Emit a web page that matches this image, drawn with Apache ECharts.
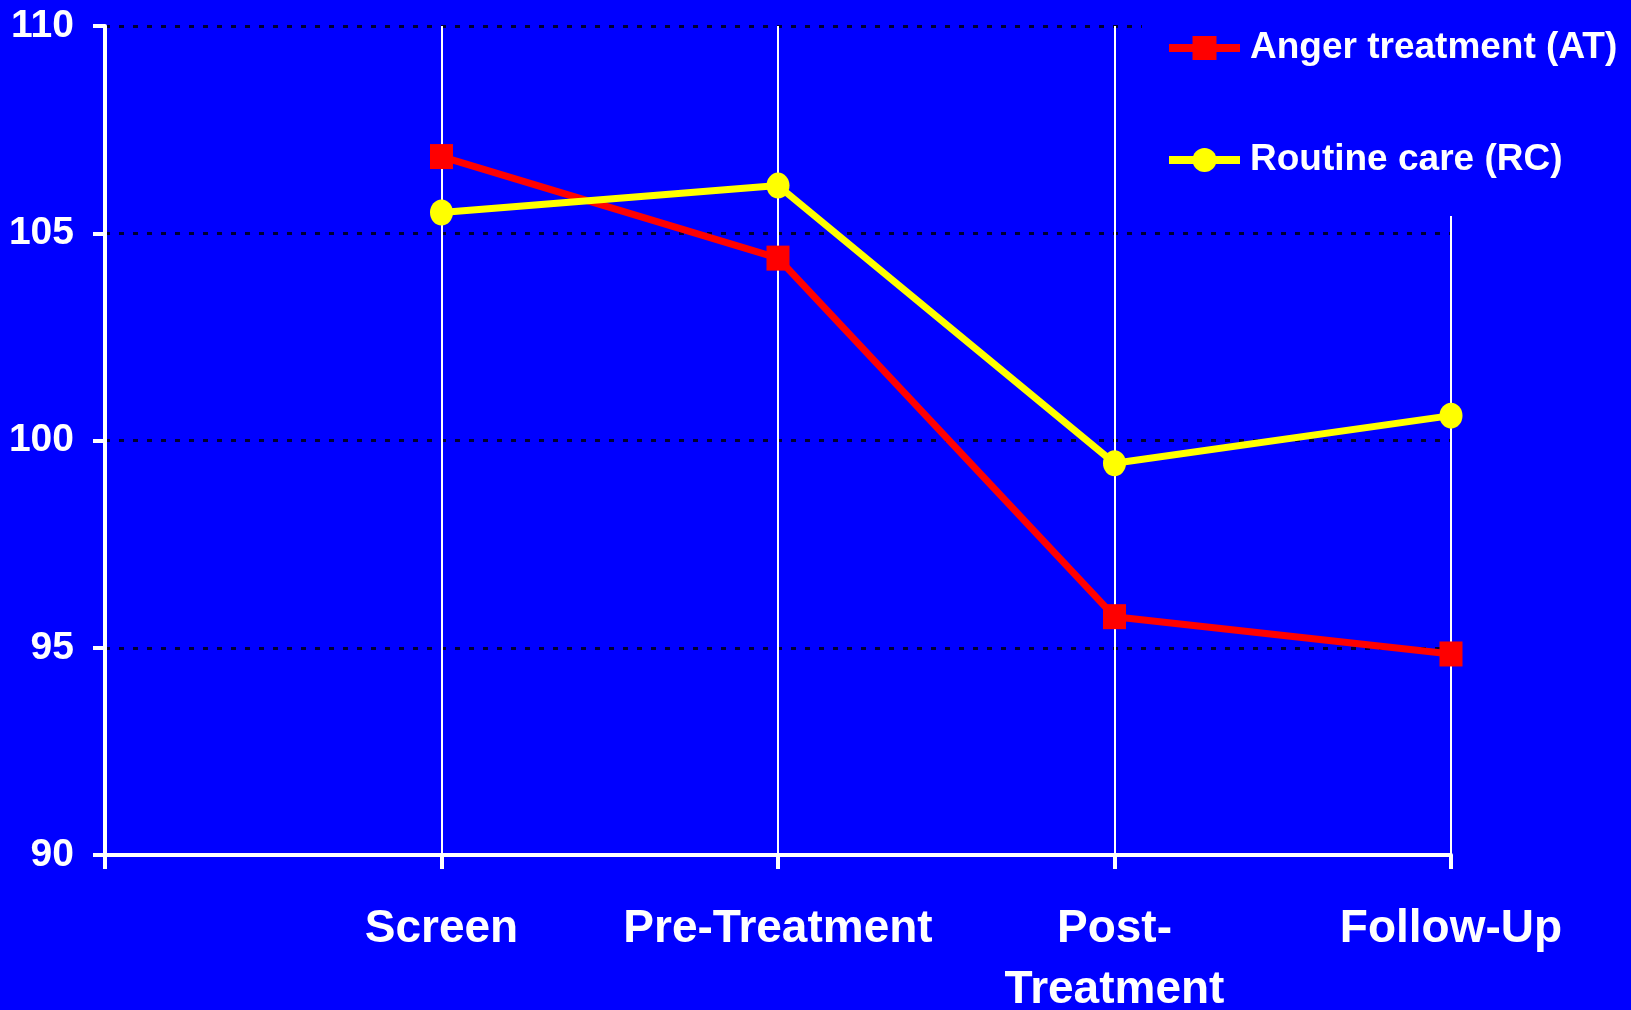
<!DOCTYPE html>
<html>
<head>
<meta charset="utf-8">
<script src="https://cdn.jsdelivr.net/npm/echarts@6/dist/echarts.min.js"></script>
<style>
  html, body { margin: 0; padding: 0; background: #0000ff; }
  #chart { width: 1631px; height: 1010px; }
</style>
</head>
<body>
<div id="chart"></div>
<script>
// ---- data ----
const categories = ['', 'Screen', 'Pre-Treatment', 'Post-\nTreatment', 'Follow-Up'];
const seriesNames = ['Anger treatment (AT)', 'Routine care (RC)'];
const atValues = [null, 106.85, 104.4, 95.75, 94.85];
const rcValues = [null, 105.5, 106.15, 99.45, 100.6];
const yMin = 90;
const yMax = 110;
const yInterval = 5;

const FONT = "'Liberation Sans', Arial, sans-serif";
const chart = echarts.init(document.getElementById('chart'), null, { renderer: 'canvas' });

chart.setOption({
  backgroundColor: '#0000ff',
  animation: false,
  grid: { left: 105, right: 180, top: 26, bottom: 155, containLabel: false, outerBoundsMode: 'none' },
  legend: {
    orient: 'vertical',
    left: 1142,
    top: 0,
    padding: [28, 15, 36, 23],
    backgroundColor: '#0000ff',
    itemWidth: 71,
    itemHeight: 30,
    itemGap: 72,
    lineStyle: { width: 8 },
    textStyle: { color: '#ffffff', fontSize: 37, fontWeight: 'bold', fontFamily: FONT, lineHeight: 40, padding: [0, 0, 0, 5] },
    data: seriesNames
  },
  xAxis: {
    type: 'category',
    data: categories,
    boundaryGap: false,
    axisLine: { show: true, lineStyle: { color: '#ffffff', width: 4 } },
    axisTick: { show: true, inside: false, length: 14, interval: 0, lineStyle: { color: '#ffffff', width: 4 } },
    axisLabel: { interval: 0, color: '#ffffff', fontSize: 46, fontWeight: 'bold', fontFamily: FONT, margin: 44, lineHeight: 61 },
    splitLine: { show: true, interval: 0, lineStyle: { color: '#ffffff', width: 2 } }
  },
  yAxis: {
    type: 'value',
    min: yMin,
    max: yMax,
    interval: yInterval,
    axisLine: { show: true, lineStyle: { color: '#ffffff', width: 4 } },
    axisTick: { show: true, inside: false, length: 12, lineStyle: { color: '#ffffff', width: 4 } },
    axisLabel: { color: '#ffffff', fontSize: 39, fontWeight: 'bold', fontFamily: FONT, margin: 31 },
    splitLine: { show: true, lineStyle: { color: '#000033', width: 3, type: [5, 9] } }
  },
  series: [
    {
      name: seriesNames[0],
      type: 'line',
      data: atValues,
      symbol: 'rect',
      symbolSize: [23, 25],
      lineStyle: { color: '#ff0000', width: 7 },
      itemStyle: { color: '#ff0000' },
      z: 3
    },
    {
      name: seriesNames[1],
      type: 'line',
      data: rcValues,
      symbol: 'circle',
      symbolSize: [23, 26],
      lineStyle: { color: '#ffff00', width: 7 },
      itemStyle: { color: '#ffff00' },
      z: 4
    }
  ]
});
</script>
</body>
</html>
